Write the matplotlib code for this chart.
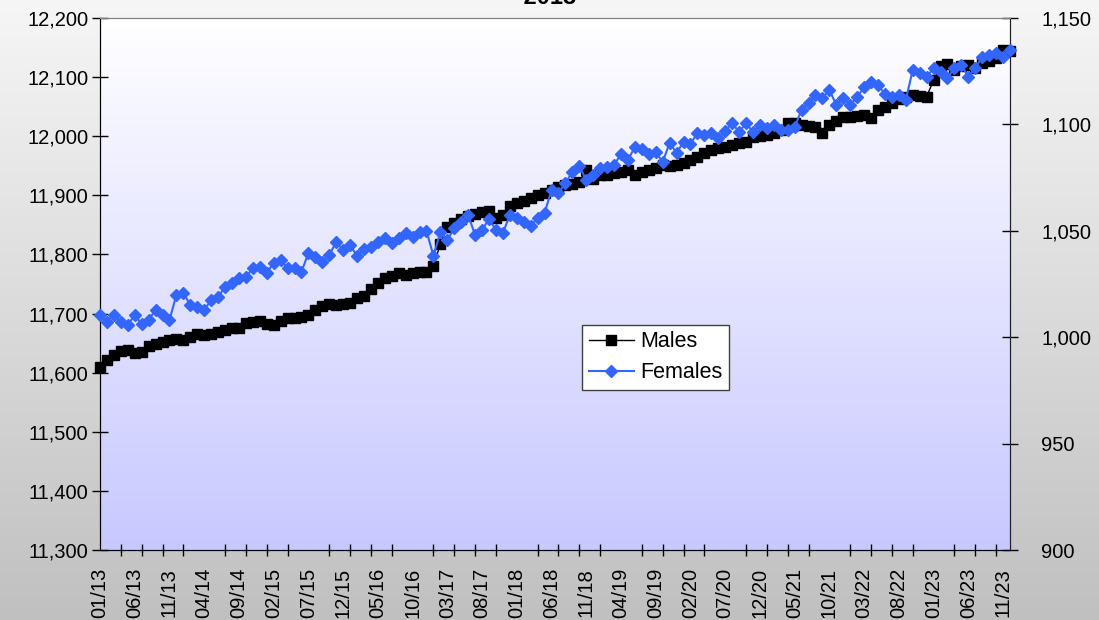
import numpy as np
import pandas as pd
import matplotlib
matplotlib.use("Agg")
import matplotlib.pyplot as plt
from matplotlib.colors import LinearSegmentedColormap
from matplotlib.ticker import FuncFormatter, MultipleLocator

plt.rcParams['font.family'] = ['Liberation Sans', 'DejaVu Sans']

# monthly series, 01/13 .. 12/23
months = pd.date_range('2013-01-01', periods=132, freq='MS')
month_labels = list(months.strftime('%m/%y'))

# Males (left axis)
males = [
    11610, 11621, 11630, 11637, 11638, 11633, 11635, 11645, 11648, 11652,
    11655, 11657, 11656, 11660, 11666, 11663, 11666, 11668, 11672, 11675,
    11676, 11684, 11686, 11688, 11683, 11680, 11688, 11692, 11693, 11694,
    11698, 11706, 11713, 11717, 11715, 11716, 11718, 11726, 11729, 11742,
    11752, 11760, 11764, 11768, 11766, 11769, 11770, 11771, 11780, 11818,
    11846, 11853, 11860, 11865, 11869, 11872, 11874, 11862, 11866, 11882,
    11887, 11891, 11896, 11900, 11904, 11909, 11914, 11917, 11920, 11923,
    11943, 11928, 11934, 11934, 11937, 11940, 11943, 11934, 11939, 11943,
    11947, 11951, 11950, 11951, 11955, 11960, 11965, 11972, 11977, 11980,
    11982, 11985, 11988, 11990, 11998, 12000, 12002, 12005, 12010, 12022,
    12022, 12019, 12018, 12015, 12005, 12019, 12026, 12032, 12032, 12034,
    12036, 12030, 12044, 12049, 12057, 12063, 12066, 12069, 12068, 12067,
    12095, 12118, 12122, 12112, 12118, 12120, 12115, 12124, 12128, 12133,
    12146, 12144,
]

# Females (right axis)
females = [
    1010.4, 1007.3, 1010.4, 1007.3, 1005.7, 1010.4, 1006.2, 1008.1, 1012.8, 1010.4,
    1008.1, 1019.8, 1020.8, 1015.1, 1014.2, 1012.8, 1017.5, 1018.9, 1023.6, 1025.5,
    1027.8, 1028.3, 1032.5, 1033.0, 1030.2, 1034.9, 1036.3, 1032.5, 1032.5, 1030.6,
    1039.6, 1037.7, 1035.3, 1038.6, 1044.7, 1041.0, 1043.3, 1038.2, 1041.5, 1042.4,
    1044.7, 1046.6, 1044.2, 1046.6, 1049.0, 1047.1, 1049.4, 1050.0, 1038.2, 1049.4,
    1045.7, 1051.3, 1054.1, 1057.4, 1048.0, 1050.4, 1055.5, 1050.4, 1049.0, 1057.4,
    1056.0, 1054.1, 1052.3, 1056.0, 1058.4, 1069.2, 1067.8, 1072.5, 1077.6, 1080.4,
    1073.9, 1076.2, 1079.5, 1080.0, 1080.9, 1086.1, 1083.3, 1089.4, 1088.4, 1086.1,
    1087.0, 1082.3, 1091.3, 1086.6, 1091.7, 1090.8, 1096.0, 1095.0, 1096.0, 1093.6,
    1096.9, 1100.6, 1096.4, 1100.6, 1096.4, 1099.7, 1098.3, 1099.7, 1097.4, 1097.4,
    1098.8, 1106.8, 1110.0, 1113.8, 1112.4, 1116.2, 1109.1, 1112.4, 1109.1, 1112.9,
    1117.6, 1119.9, 1118.5, 1114.3, 1112.9, 1113.8, 1111.5, 1125.6, 1124.2, 1122.3,
    1126.5, 1124.6, 1121.8, 1126.5, 1127.9, 1122.3, 1126.5, 1131.7, 1132.6, 1133.6,
    1131.7, 1135.0,
]

x = np.arange(len(months))

fig = plt.figure(figsize=(10.99, 6.20), dpi=100)

# grey gradient behind everything
bg = fig.add_axes([0, 0, 1, 1], zorder=-10)
bg_cmap = LinearSegmentedColormap.from_list('bg', ['#f6f6f6', '#c0c0c0'])
bg.imshow(np.linspace(0, 1, 256).reshape(-1, 1), cmap=bg_cmap, aspect='auto',
          extent=[0, 1, 0, 1])
bg.set_axis_off()

ax = fig.add_axes([100 / 1099, 1 - 550 / 620, 910 / 1099, 532 / 620])
ax.patch.set_visible(False)
plot_cmap = LinearSegmentedColormap.from_list('pl', ['#ffffff', '#c8c8ff'])
ax.imshow(np.linspace(0, 1, 256).reshape(-1, 1), cmap=plot_cmap, aspect='auto',
          extent=[0, 1, 0, 1], transform=ax.transAxes, zorder=0)

l1, = ax.plot(x, males, color='black', lw=1.0, marker='s', markersize=7,
              markerfacecolor='black', markeredgecolor='black', clip_on=False,
              zorder=3, label='Males')

ax2 = ax.twinx()
l2, = ax2.plot(x, females, color='#3366ff', lw=1.5, marker='D', markersize=6.3,
               markerfacecolor='#3366ff', markeredgecolor='#3366ff', clip_on=False,
               zorder=3, label='Females')

ax.set_xlim(0, len(months) - 1)
ax.set_ylim(11300, 12200)
ax2.set_ylim(900, 1150)

comma = FuncFormatter(lambda v, p: f'{v:,.0f}')
ax.yaxis.set_major_locator(MultipleLocator(100))
ax.yaxis.set_major_formatter(comma)
ax2.yaxis.set_major_locator(MultipleLocator(50))
ax2.yaxis.set_major_formatter(comma)

# labels every 5 months, tick marks every 3 months
ax.set_xticks(x[::5])
ax.set_xticklabels(month_labels[::5], rotation=90)
ax.set_xticks(x[::3], minor=True)
ax.tick_params(axis='x', which='major', length=0, pad=13, labelsize=14.5)
ax.tick_params(axis='x', which='minor', direction='inout', length=8, width=1)
ax.tick_params(axis='y', direction='inout', length=11, width=1, labelsize=14.5, pad=3)
ax2.tick_params(axis='y', direction='inout', length=11, width=1, labelsize=14.5, pad=17)

for a in (ax, ax2):
    a.spines['top'].set_color('#808080')
    a.spines['left'].set_color('black')
    a.spines['right'].set_color('#202020')
    a.spines['bottom'].set_color('black')

leg = ax2.legend([l1, l2], ['Males', 'Females'], loc='upper left',
                 bbox_to_anchor=(0.530, 0.423), fontsize=15.5, frameon=True,
                 fancybox=False, framealpha=1, edgecolor='#404040',
                 handlelength=2.1, handletextpad=0.3, borderpad=0.3,
                 labelspacing=0.45, borderaxespad=0)
leg.get_frame().set_linewidth(1)

# title mostly cut off by the top of the image, as in the source
fig.text(0.5, 1 - 4 / 620, '- 2013 -', ha='center', va='baseline',
         fontsize=17, fontweight='bold')

fig.savefig('out.png', dpi=100)
